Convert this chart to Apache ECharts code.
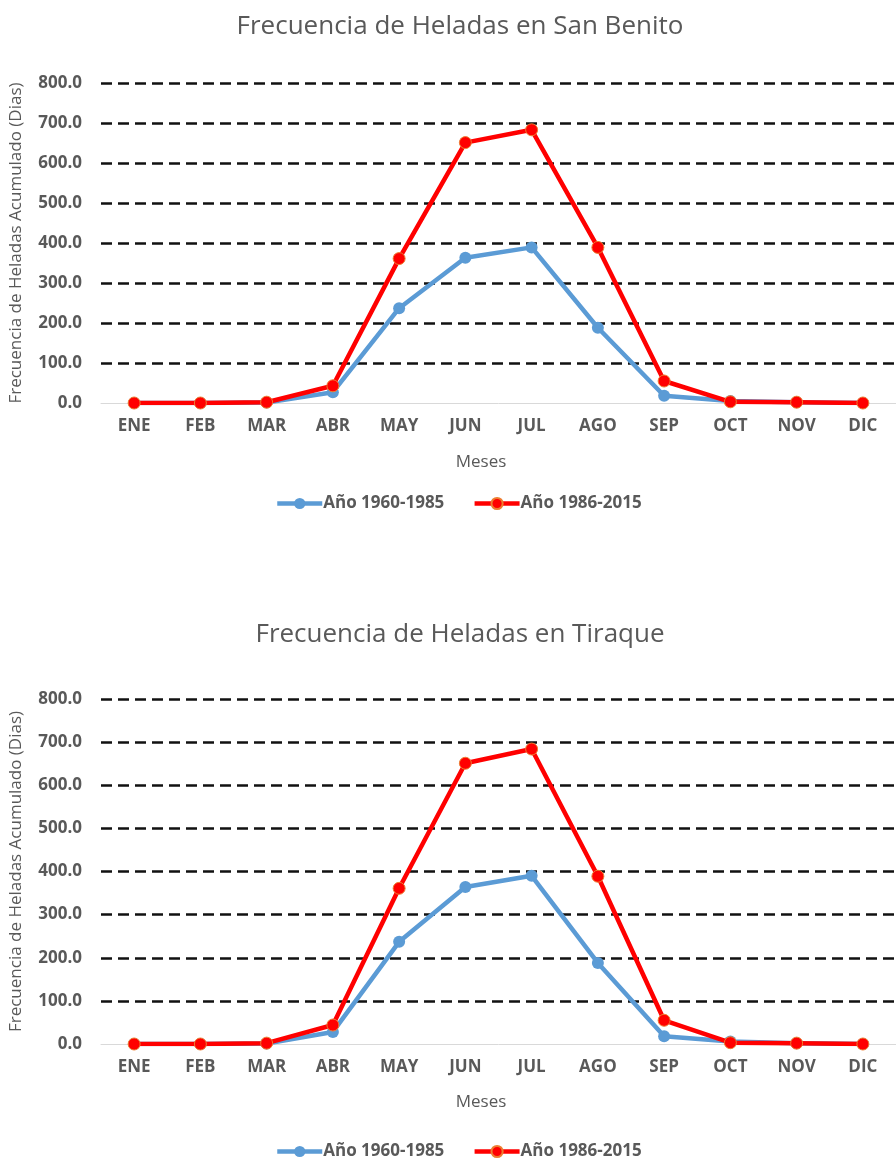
<!DOCTYPE html>
<html><head><meta charset="utf-8">
<script src="https://cdn.jsdelivr.net/npm/echarts@6/dist/echarts.min.js"></script>
<style>html,body{margin:0;padding:0;background:#fff}#c{width:896px;height:1161px}</style>
</head><body><div id="c"></div>
<script>
const months = ['ENE','FEB','MAR','ABR','MAY','JUN','JUL','AGO','SEP','OCT','NOV','DIC'];
const seriesNames = ['Año 1960-1985','Año 1986-2015'];
const sanBenito1960 = [0, 0, 1, 27, 237, 363, 389, 188, 18, 5, 2, 0];
const sanBenito1986 = [0, 0, 2, 43, 361, 651, 683, 389, 55, 3, 2, 0];
const tiraque1960 = [0, 0, 1, 28, 237, 364, 390, 188, 18, 6, 2, 0];
const tiraque1986 = [0, 0, 2, 44, 361, 651, 684, 389, 55, 3, 2, 0];
const titles = ['Frecuencia de Heladas en San Benito','Frecuencia de Heladas en Tiraque'];
const yName = 'Frecuencia de Heladas Acumulado (Dias)';
const xName = 'Meses';

const FONT = "'Open Sans', sans-serif";
const GREY = '#595959';
const grids = [
  {left: 99, width: 810, top: 83, height: 320},
  {left: 99, width: 810, top: 699, height: 345}
];
function xAx(i){return {type:'category', gridIndex:i, data:months, boundaryGap:true,
  axisLine:{show:true, lineStyle:{color:'#d9d9d9', width:1}}, axisTick:{show:false},
  axisLabel:{color:GREY, fontFamily:FONT, fontWeight:'bold', fontSize:17, margin:15}};}
function yAx(i){return {type:'value', gridIndex:i, min:0, max:800, interval:100,
  name:yName, nameLocation:'middle', nameGap:76, nameTextStyle:{color:GREY, fontFamily:FONT, fontSize:17},
  axisLine:{show:false}, axisTick:{show:false},
  axisLabel:{color:GREY, fontFamily:FONT, fontWeight:'bold', fontSize:17, margin:19, formatter:v=>v.toFixed(1)},
  splitLine:{show:true, showMinLine:false, lineStyle:{color:'#111', width:2.5, type:[11,6]}}};}
function ser(name, data, i, blue){
  return {name, type:'line', xAxisIndex:i, yAxisIndex:i, data, symbol:'circle', symbolSize: 12,
    showSymbol:true, showAllSymbol:true,
    lineStyle:{color: blue?'#5B9BD5':'#FF0000', width:4.5},
    itemStyle:{color: blue?'#5B9BD5':'#FF0000', borderColor: blue?'#5B9BD5':'#ED7D31', borderWidth: blue?0:1},
    z: blue?2:3};
}
const chart = echarts.init(document.getElementById('c'), null, {renderer:'canvas'});
const legendCommon = {itemWidth:45, itemHeight:14, itemGap:28, padding:0,
  lineStyle:{width:4.5},
  textStyle:{color:GREY, fontFamily:FONT, fontWeight:'bold', fontSize:17, padding:[0,0,0,-4]}, data:seriesNames};
chart.setOption({
  animation:false,
  title:[
    {text:titles[0], left:455, textAlign:'center', top:9, textStyle:{color:GREY, fontFamily:FONT, fontWeight:'normal', fontSize:26}},
    {text:titles[1], left:455, textAlign:'center', top:617, textStyle:{color:GREY, fontFamily:FONT, fontWeight:'normal', fontSize:26}},
    {text:xName, left:476, textAlign:'center', top:449, textStyle:{color:GREY, fontFamily:FONT, fontWeight:'normal', fontSize:17}},
    {text:xName, left:476, textAlign:'center', top:1089, textStyle:{color:GREY, fontFamily:FONT, fontWeight:'normal', fontSize:17}}
  ],
  grid:grids,
  xAxis:[xAx(0), xAx(1)],
  yAxis:[yAx(0), yAx(1)],
  legend:[
    Object.assign({left:275, top:495}, legendCommon),
    Object.assign({left:275, top:1143}, legendCommon)
  ],
  series:[
    ser(seriesNames[0], sanBenito1960, 0, true),
    ser(seriesNames[1], sanBenito1986, 0, false),
    ser(seriesNames[0], tiraque1960, 1, true),
    ser(seriesNames[1], tiraque1986, 1, false)
  ]
});
</script></body></html>
